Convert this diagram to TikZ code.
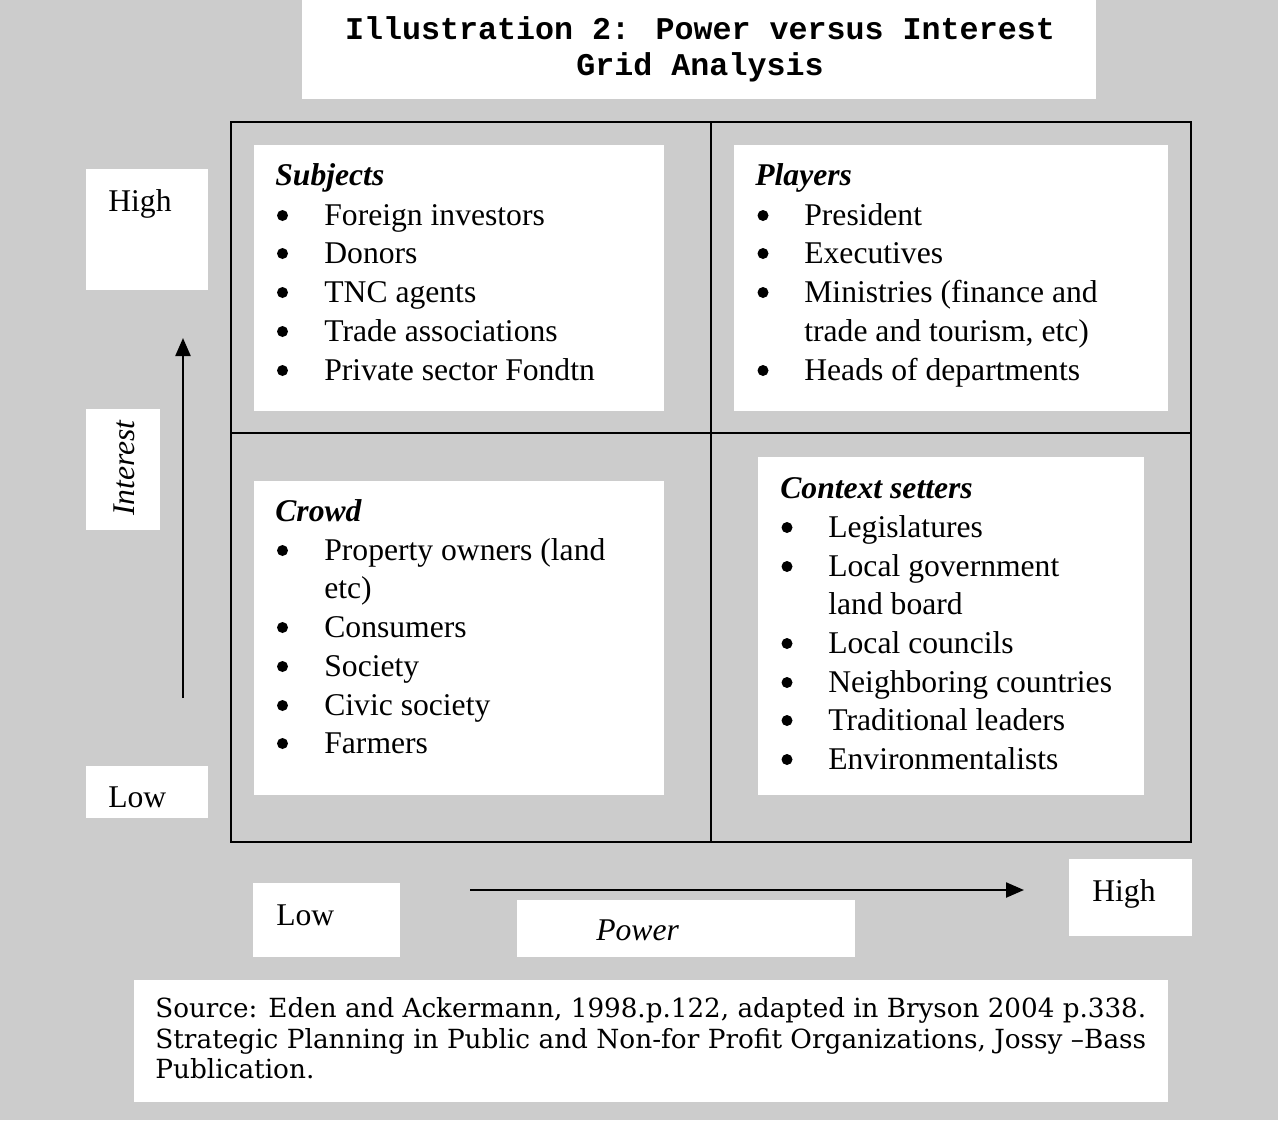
\documentclass[tikz,border=0pt]{standalone}
\usepackage{fontspec}
\setmainfont{Liberation Serif}
\newfontfamily\titlefont{Liberation Mono}
\newfontfamily\srcfont{DejaVu Serif}
\usetikzlibrary{arrows.meta,fit}
\definecolor{bggray}{HTML}{CCCCCC}
\newlength\fitw
% scale #3 horizontally by the factor that brings #2 to width #1
\newcommand\scaleas[3]{\settowidth\fitw{#2}\pgfmathsetmacro\fitx{#1/\fitw}\scalebox{\fitx}[1]{#3}}
\newcommand\fitto[2]{\scaleas{#1}{#2}{#2}}
\tikzset{
  wbox/.style={fill=white, draw=none, inner sep=0pt},
  txt/.style={font=\fontsize{18}{22}\selectfont, inner sep=0pt, anchor=base west},
  dot/.style={circle, fill=black, draw=none, inner sep=0pt, minimum size=0.22cm},
  head/.style={txt, font=\fontsize{18}{22}\selectfont\bfseries\itshape},
  gridline/.style={line width=1.1pt, black},
  axis/.style={line width=1.3pt, -{Triangle[length=0.36cm,width=0.3cm]}},
  ttl/.style={font=\fontsize{18}{20}\selectfont\titlefont\bfseries, inner sep=0pt, anchor=base},
  src/.style={font=\fontsize{15}{17}\selectfont\srcfont, inner sep=0pt, anchor=base west},
}
\newcommand\bitem[5]{%
  \node[dot] (#1b) at (#2,{#4-9.5}) {};
  \node[txt] (#1) at (#3,#4) {#5};}
\begin{document}
\begin{tikzpicture}[x=0.02cm,y=-0.02cm]
\fill[bggray] (0,0) rectangle (1278,1120);
\useasboundingbox (0,0) rectangle (1278,1120);

% title
\node[wbox, fit={(302,0) (1096,99)}] (titlebox) {};
\node[ttl] (title1) at (700,39) {\fitto{404pt}{Illustration 2: Power versus Interest}};
\node[ttl] (title2) at (700,75) {\scaleas{404pt}{Illustration 2: Power versus Interest}{Grid Analysis}};

% grid
\draw[gridline] (231,122) rectangle (1191,842);
\coordinate (gT) at (711,122);
\coordinate (gB) at (711,842);
\coordinate (gL) at (231,433);
\coordinate (gR) at (1191,433);
\draw[gridline] (gT) -- (gB);
\draw[gridline] (gL) -- (gR);

% quadrant boxes
\node[wbox, fit={(254,145) (664,411)}] (subjbox) {};
\node[wbox, fit={(734,145) (1168,411)}] (playbox) {};
\node[wbox, fit={(254,481) (664,795)}] (crowdbox) {};
\node[wbox, fit={(758,457) (1144,795)}] (ctxbox) {};

% Subjects
\node[head] (subjh) at (275,185) {Subjects};
\bitem{s1}{282.5}{324}{225}{Foreign investors}
\bitem{s2}{282.5}{324}{263}{Donors}
\bitem{s3}{282.5}{324}{302}{TNC agents}
\bitem{s4}{282.5}{324}{341}{Trade associations}
\bitem{s5}{282.5}{324}{380}{Private sector Fondtn}

% Players
\node[head] (playh) at (755,185) {Players};
\bitem{p1}{763}{804}{225}{President}
\bitem{p2}{763}{804}{263}{Executives}
\bitem{p3}{763}{804}{302}{Ministries (finance and}
\node[txt] (p3c) at (804,341) {trade and tourism, etc)};
\bitem{p4}{763}{804}{380}{Heads of departments}

% Crowd
\node[head] (crowdh) at (275,521) {Crowd};
\bitem{c1}{282.5}{324}{560}{Property owners (land}
\node[txt] (c1c) at (324,598) {etc)};
\bitem{c2}{282.5}{324}{637}{Consumers}
\bitem{c3}{282.5}{324}{676}{Society}
\bitem{c4}{282.5}{324}{715}{Civic society}
\bitem{c5}{282.5}{324}{753}{Farmers}

% Context setters
\node[head] (ctxh) at (780,498) {Context setters};
\bitem{k1}{787}{828}{537}{Legislatures}
\bitem{k2}{787}{828}{576}{Local government}
\node[txt] (k2c) at (828,614) {land board};
\bitem{k3}{787}{828}{653}{Local councils}
\bitem{k4}{787}{828}{692}{Neighboring countries}
\bitem{k5}{787}{828}{730}{Traditional leaders}
\bitem{k6}{787}{828}{769}{Environmentalists}

% vertical axis
\node[wbox, fit={(86,169) (208,290)}] (highLbox) {};
\node[txt] (highL) at (108,211) {High};
\node[wbox, fit={(86,409) (160,530)}] (intbox) {};
\node[txt, anchor=center, rotate=90, font=\fontsize{18}{22}\selectfont\itshape] (interest) at (124,468) {Interest};
\node[wbox, fit={(86,766) (208,818)}] (lowLbox) {};
\node[txt] (lowL) at (108,807) {Low};
\coordinate (iA) at (183,698);
\coordinate (iB) at (183,338);
\draw[axis] (iA) -- (iB);

% horizontal axis
\node[wbox, fit={(253,883) (400,957)}] (lowBbox) {};
\node[txt] (lowB) at (276,925) {Low};
\node[wbox, fit={(517,900) (855,957)}] (powbox) {};
\node[txt, font=\fontsize{18}{22}\selectfont\itshape] (power) at (596,940) {Power};
\node[wbox, fit={(1069,859) (1192,936)}] (highBbox) {};
\node[txt] (highB) at (1092,901) {High};
\coordinate (pA) at (470,890);
\coordinate (pB) at (1024,890);
\draw[axis] (pA) -- (pB);

% source
\node[wbox, fit={(134,980) (1168,1102)}] (srcbox) {};
\node[src] (src1) at (155,1017) {\fitto{564pt}{Source: Eden and Ackermann, 1998.p.122, adapted in Bryson 2004 p.338.}};
\node[src] (src2) at (155,1048) {\fitto{564pt}{Strategic Planning in Public and Non-for Profit Organizations, Jossy –Bass}};
\node[src] (src3) at (155,1078) {\scaleas{564pt}{Strategic Planning in Public and Non-for Profit Organizations, Jossy –Bass}{Publication.}};
\end{tikzpicture}
\end{document}
